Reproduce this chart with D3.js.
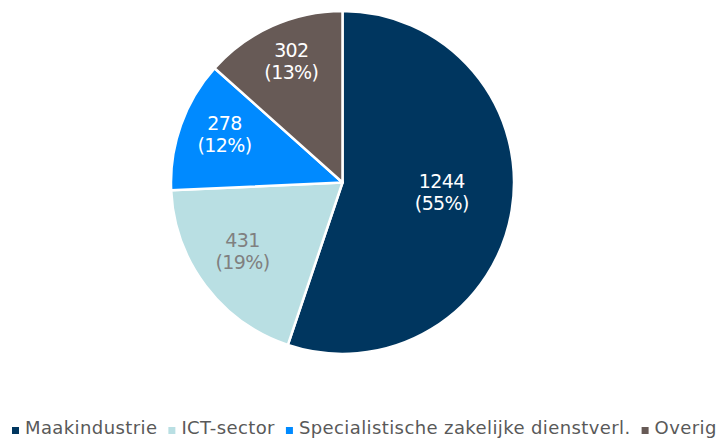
<!DOCTYPE html>
<html>
<head>
<meta charset="utf-8">
<script src="https://cdn.jsdelivr.net/npm/d3@7"></script>
<style>
  body { margin: 0; background: #fff; }
  svg { display: block; font-family: Verdana, "DejaVu Sans", sans-serif; }
</style>
</head>
<body>
<div id="chart"></div>
<script>
// Data
const categories = ['Maakindustrie', 'ICT-sector', 'Specialistische zakelijke dienstverl.', 'Overig'];
const values = [1244, 431, 278, 302];
const colors = ['#00365f', '#b9dfe3', '#008aff', '#675a56'];
const labelColors = ['#ffffff', '#808080', '#ffffff', '#ffffff'];

const width = 716;
const height = 439;
const cx = 342.5, cy = 182.5, radius = 171.5;

const svg = d3
  .select('#chart')
  .append('svg')
  .attr('width', width)
  .attr('height', height)
  .attr('viewBox', `0,0,${width},${height}`);

const total = d3.sum(values);
const data = categories.map((c, i) => ({name: c, value: values[i], i}));

const pie = d3.pie().value(d => d.value).sort(null);
const arcs = pie(data);
const arc = d3.arc().innerRadius(0).outerRadius(radius);

const g = svg.append('g').attr('transform', `translate(${cx},${cy})`);

g.selectAll('path')
  .data(arcs)
  .join('path')
  .attr('d', arc)
  .attr('fill', d => colors[d.data.i])
  .attr('stroke', '#fff')
  .attr('stroke-width', 2.5)
  .attr('stroke-linejoin', 'round');

// labels: big slice sits closer to the center (like Excel best fit)
const labelArc = d => {
  const r = (d.endAngle - d.startAngle) > Math.PI ? radius * 0.587 : radius * 0.73;
  return d3.arc().innerRadius(r).outerRadius(r);
};

const labels = g.selectAll('text.lbl')
  .data(arcs)
  .join('text')
  .attr('class', 'lbl')
  .attr('transform', d => `translate(${labelArc(d).centroid(d)})`)
  .attr('text-anchor', 'middle')
  .attr('font-size', 19)
  .attr('letter-spacing', -0.6)
  .attr('fill', d => labelColors[d.data.i]);

labels.append('tspan')
  .attr('x', 0)
  .attr('y', -11)
  .text(d => d.data.value);
labels.append('tspan')
  .attr('x', 0)
  .attr('y', 11)
  .text(d => `(${Math.round(d.data.value / total * 100)}%)`);

// Legend
const legend = svg.append('g').attr('transform', 'translate(12,434)');
let xPos = 0;
data.forEach(d => {
  const item = legend.append('g').attr('transform', `translate(${xPos},0)`);
  item.append('rect')
    .attr('x', 0)
    .attr('y', -7)
    .attr('width', 7)
    .attr('height', 7)
    .attr('fill', colors[d.i]);
  const t = item.append('text')
    .attr('x', 13)
    .attr('y', 0)
    .attr('font-size', 18)
    .attr('letter-spacing', 0.4)
    .attr('fill', '#595959')
    .text(d.name);
  xPos += 13 + t.node().getComputedTextLength() + 11;
});
</script>
</body>
</html>
